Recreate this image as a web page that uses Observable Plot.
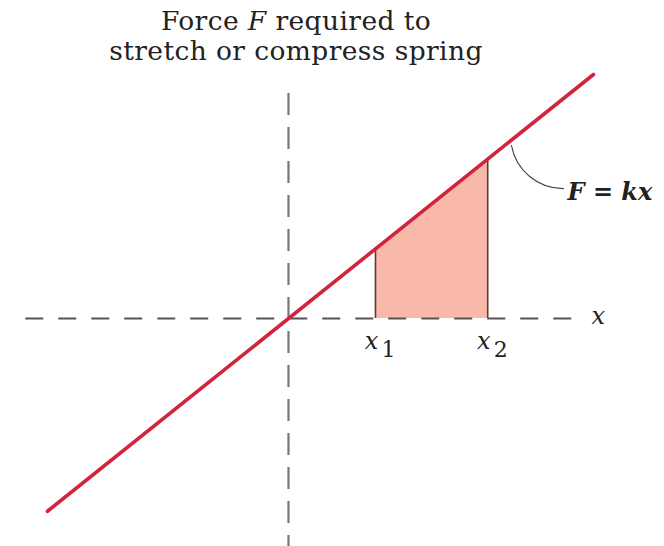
<!DOCTYPE html>
<html>
<head>
<meta charset="utf-8">
<script src="https://cdn.jsdelivr.net/npm/d3@7"></script>
<script src="https://cdn.jsdelivr.net/npm/@observablehq/plot@0.6"></script>
<style>
  body { margin: 0; background: #fff; }
  #title { height: 70px; width: 592px; text-align: center; font-family: "DejaVu Serif", serif; font-size: 26.5px; line-height: 30px; color: #222; padding-top: 6px; box-sizing: border-box; letter-spacing: 0.4px; }
  #title i { font-style: italic; }
  svg { display: block; }
</style>
</head>
<body>
<div id="title">Force <i>F</i> required to<br>stretch or compress spring</div>
<div id="chart"></div>
<script>
// spring constant (slope of F = kx)
const k = 0.8;
// ends of the drawn force line (x values)
const lineX = [-2.77, 3.506];
// integration limits
const limits = [{name: "x", sub: "1", x: 1.0}, {name: "x", sub: "2", x: 2.29}];
// dashed axes extents
const xAxisExtent = [-3.02, 3.36];
const yAxisExtent = [-2.7, 2.586];
// annotation
const annotationText = "F = kx";
const leaderFrom = [2.563, 1.989];
const leaderTo = [3.161, 1.494];
const annotationAt = [3.207, 1.448];
const axisLabel = {text: "x", x: 3.56, y: 0};

const lineData = lineX.map(x => ({x, y: k * x}));
const areaData = limits.map(d => ({x: d.x, y: k * d.x}));

const plot = Plot.plot({
  width: 664,
  height: 476,
  margin: 0,
  x: {domain: [-3.31, 4.322], axis: null},
  y: {domain: [-2.621, 2.851], axis: null},
  marks: [
    Plot.areaY(areaData, {x: "x", y1: 0, y2: "y", fill: "#f8b9aa"}),
    Plot.ruleX(areaData, {x: "x", y1: 0, y2: "y", stroke: "#5b3b33", strokeWidth: 1.6}),
    Plot.ruleY([0], {x1: xAxisExtent[0], x2: xAxisExtent[1], stroke: "#555", strokeWidth: 2, strokeDasharray: "18,15"}),
    Plot.ruleX([0], {y1: yAxisExtent[1], y2: yAxisExtent[0], stroke: "#777", strokeWidth: 2.2, strokeDasharray: "22,12"}),
    Plot.line(lineData, {x: "x", y: "y", stroke: "#d2233f", strokeWidth: 3.6}),
    Plot.text(limits, {x: "x", y: 0, text: "name", dx: -4, dy: 23, fontStyle: "italic", fontFamily: "DejaVu Serif", fontSize: 24, fill: "#222"}),
    Plot.text(limits, {x: "x", y: 0, text: "sub", dx: 13, dy: 31, fontFamily: "DejaVu Serif", fontSize: 22, fill: "#222"}),
    Plot.text([axisLabel], {x: "x", y: "y", text: "text", dy: -2, fontStyle: "italic", fontFamily: "DejaVu Serif", fontSize: 24, fill: "#222"}),
    Plot.arrow([{x1: leaderFrom[0], y1: leaderFrom[1], x2: leaderTo[0], y2: leaderTo[1]}], {x1: "x1", y1: "y1", x2: "x2", y2: "y2", bend: -40, headLength: 0, stroke: "#444", strokeWidth: 1.2}),
    Plot.text([{x: annotationAt[0], y: annotationAt[1], t: annotationText}], {x: "x", y: "y", text: "t", textAnchor: "start", fontStyle: "italic", fontWeight: "bold", fontFamily: "DejaVu Serif", fontSize: 24, fill: "#222"})
  ]
});
document.getElementById("chart").appendChild(plot);
</script>
</body>
</html>
